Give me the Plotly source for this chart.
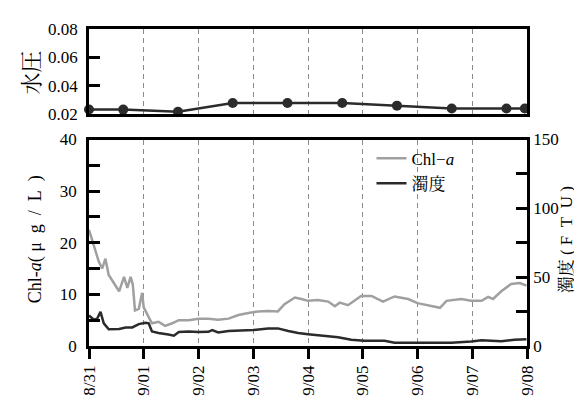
import pandas as pd
import plotly.graph_objects as go

# ---- data (day offsets from 8/31 00:00) ----
start = pd.Timestamp("2014-08-31")
pressure_days = [0.0, 0.625, 1.625, 2.625, 3.625, 4.625, 5.625, 6.625, 7.625, 7.96]
pressure_vals = [0.0234, 0.0233, 0.0218, 0.0279, 0.0279, 0.0279, 0.0261, 0.0241, 0.0241, 0.0241]

chl_days = [0.0, 0.09, 0.18, 0.24, 0.30, 0.36, 0.48, 0.55, 0.64, 0.70, 0.76, 0.80, 0.84, 0.91,
            0.97, 1.0, 1.09, 1.15, 1.27, 1.39, 1.52, 1.64, 1.82, 2.0, 2.18, 2.36, 2.55, 2.73,
            2.91, 3.09, 3.27, 3.45, 3.57, 3.76, 3.88, 4.0, 4.18, 4.37, 4.49, 4.58, 4.73, 4.97,
            5.16, 5.37, 5.58, 5.83, 6.0, 6.25, 6.41, 6.53, 6.68, 6.80, 6.98, 7.17, 7.29, 7.38,
            7.53, 7.71, 7.87, 7.99]
chl_vals = [22.5, 19.4, 16.3, 15.0, 16.9, 13.75, 11.9, 10.6, 13.4, 11.25, 13.4, 11.9, 6.9, 7.2,
            10.3, 7.5, 5.6, 4.4, 4.7, 3.9, 4.4, 5.0, 5.0, 5.3, 5.3, 5.1, 5.3, 6.0,
            6.4, 6.7, 6.8, 6.7, 8.1, 9.4, 9.1, 8.75, 8.9, 8.6, 7.7, 8.4, 7.9, 9.7,
            9.7, 8.6, 9.6, 9.1, 8.3, 7.8, 7.4, 8.75, 8.9, 9.1, 8.75, 8.75, 9.5, 9.1,
            10.6, 12.0, 12.2, 11.7]

turb_days = [0.0, 0.09, 0.15, 0.21, 0.27, 0.36, 0.55, 0.67, 0.79, 0.91, 1.03, 1.09, 1.15, 1.27,
             1.45, 1.55, 1.64, 1.82, 2.0, 2.18, 2.25, 2.36, 2.55, 2.79, 3.0, 3.27, 3.45, 3.64,
             3.82, 4.0, 4.37, 4.55, 4.79, 5.03, 5.40, 5.58, 6.0, 6.62, 6.98, 7.17, 7.53, 7.77, 7.99]
turb_vals = [22.1, 19.1, 19.9, 24.8, 16.5, 12.2, 12.4, 13.5, 13.5, 15.9, 16.9, 16.5, 10.5, 9.4,
             8.3, 7.5, 10.1, 10.5, 10.1, 10.3, 11.6, 9.8, 10.9, 11.3, 11.6, 12.8, 12.8, 10.9,
             9.4, 8.6, 6.9, 6.4, 4.5, 3.8, 3.8, 2.3, 2.3, 2.3, 3.2, 4.1, 3.4, 4.5, 4.9]

tick_days = [0, 1, 2, 3, 4, 5, 6, 7, 8]


def to_dates(days):
    return [start + pd.Timedelta(days=d) for d in days]


FONT = "Liberation Serif, Noto Serif CJK JP, Noto Sans CJK JP, serif"
BLACK = "#000000"
x_range = [start, start + pd.Timedelta(days=8)]
tickv = to_dates(tick_days)

ML, MR, MT, MB = 81, 63, 19, 54
PW, PH = 582 - ML - MR, 400 - MT - MB


def px_x(p):
    return (p - ML) / PW


def px_y(p):
    return 1 - (p - MT) / PH


fig = go.Figure()
fig.add_trace(go.Scatter(x=to_dates(pressure_days), y=pressure_vals, mode="lines+markers",
                         line=dict(color="#2b2b2b", width=2.5), marker=dict(size=10, color="#2b2b2b"),
                         xaxis="x", yaxis="y", showlegend=False, cliponaxis=False))
fig.add_trace(go.Scatter(x=to_dates(chl_days), y=chl_vals, mode="lines", name="Chl−<i>a</i>",
                         line=dict(color="#a0a0a0", width=2.5), xaxis="x2", yaxis="y2"))
fig.add_trace(go.Scatter(x=to_dates(turb_days), y=turb_vals, mode="lines", name="濁度",
                         line=dict(color="#2b2b2b", width=2.5), xaxis="x2", yaxis="y3"))

grid = dict(showgrid=True, gridcolor="#8a8a8a", gridwidth=1, griddash="5px,4px")
line = dict(showline=True, linecolor=BLACK, linewidth=2.5)

NB = "\u00a0"
chl_title = "Chl-<i>a</i>(" + NB + "μ" + NB * 2 + "g" + NB * 2 + "/" + NB * 2 + "L" + NB * 2 + ")"
turb_title = "濁度 (" + NB + "F" + NB * 2 + "T" + NB * 2 + "U" + NB + ")"

fig.update_layout(
    width=582, height=400,
    margin=dict(l=ML, r=MR, t=MT, b=MB),
    paper_bgcolor="white", plot_bgcolor="white",
    font=dict(family=FONT, size=17, color=BLACK),
    xaxis=dict(domain=[0, 1], anchor="y", type="date", range=x_range, tickvals=tickv,
               showticklabels=False, ticks="", mirror=True, zeroline=False, **grid, **line),
    yaxis=dict(domain=[px_y(107), 1], anchor="x", range=[0.02, 0.08],
               tickvals=[0.02, 0.04, 0.06, 0.08],
               tickformat=".2f", ticks="inside", ticklen=11, tickwidth=2.5, tickcolor=BLACK,
               mirror=True, showgrid=False, zeroline=False, ticklabelstandoff=5, **line),
    xaxis2=dict(domain=[0, 1], anchor="y2", type="date", range=x_range, tickvals=tickv,
                tickformat="%-m/%d", tickangle=-90, ticks="outside", ticklen=10, tickwidth=2.5,
                tickcolor=BLACK, mirror=True, zeroline=False, **grid, **line),
    yaxis2=dict(domain=[0, px_y(133)], anchor="x2", range=[0, 40], tickvals=[0, 10, 20, 30, 40],
                ticks="inside", ticklen=11, tickwidth=2.5, tickcolor=BLACK,
                minor=dict(tickvals=[5, 15, 25, 35], ticks="inside", ticklen=11, tickwidth=2.5,
                           tickcolor=BLACK),
                showgrid=False, zeroline=False, ticklabelstandoff=6, **line),
    yaxis3=dict(overlaying="y2", anchor="x2", side="right", range=[0, 150],
                tickvals=[0, 50, 100, 150], ticks="inside", ticklen=11, tickwidth=2.5,
                tickcolor=BLACK,
                minor=dict(tickvals=[25, 75, 125], ticks="inside", ticklen=11, tickwidth=2.5,
                           tickcolor=BLACK),
                showgrid=False, zeroline=False, ticklabelstandoff=0, **line),
    legend=dict(x=0.645, y=0.648, xanchor="left", yanchor="top", bgcolor="rgba(0,0,0,0)",
                font=dict(size=17), itemwidth=30, tracegroupgap=0),
    annotations=[
        dict(text="水圧", xref="paper", yref="paper", x=px_x(24), y=px_y(64), textangle=-90,
             showarrow=False, xanchor="center", yanchor="middle", font=dict(size=22)),
        dict(text=chl_title, xref="paper", yref="paper",
             x=px_x(27), y=px_y(236), textangle=-90, showarrow=False,
             xanchor="center", yanchor="middle", font=dict(size=18)),
        dict(text=turb_title, xref="paper", yref="paper",
             x=px_x(558), y=px_y(237), textangle=-90, showarrow=False,
             xanchor="center", yanchor="middle", font=dict(size=17)),
    ],
)

fig.write_html("out.html")
